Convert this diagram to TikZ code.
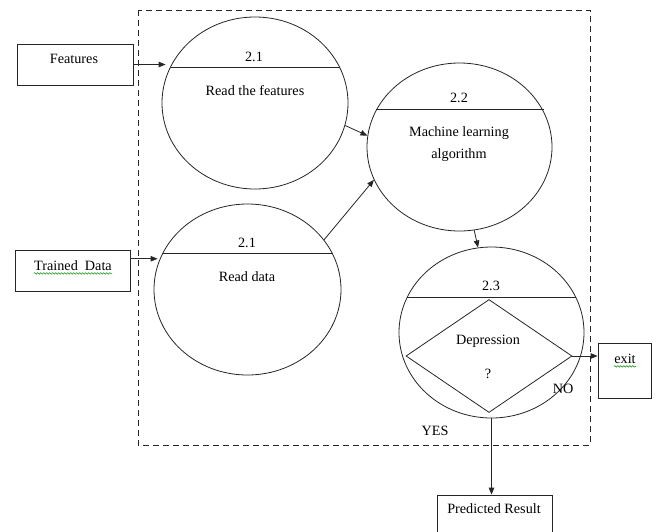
\documentclass[tikz,border=0pt]{standalone}
\usepackage{fontspec}
\setmainfont{Liberation Serif}
\usetikzlibrary{shapes.geometric,arrows.meta,calc,decorations.pathmorphing}

\begin{document}
\begin{tikzpicture}[x=1pt,y=-1pt,
  line width=0.8pt,
  every node/.style={font=\fontsize{14.2}{16}\selectfont},
  proc/.style={ellipse, draw=black!85, inner sep=0pt},
  extbox/.style={rectangle, draw=black!85, inner sep=0pt},
  lbl/.style={inner sep=0pt, text height=10pt, text depth=3pt, yshift=-1.5pt},
  arr/.style={draw=black!85, -{Triangle[length=7pt,width=5.5pt]}},
  divider/.style={draw=black!85},
  spell/.style={draw=green!55!black, line width=0.5pt, decorate,
    decoration={snake, amplitude=0.8pt, segment length=3pt}}
]
\useasboundingbox (0,0) rectangle (659,531);
\clip (0,0) rectangle (659,531);
\fill[white] (0,0) rectangle (659,531);

% system boundary
\draw[black!85, dash pattern=on 6pt off 4pt] (138,10) rectangle (590,445);

% external entities
\node[extbox, minimum width=116pt, minimum height=41pt] (feat) at (75,64.5) {};
\node[extbox, minimum width=115pt, minimum height=40.5pt] (td) at (72.5,270.75) {};
\node[extbox, minimum width=53pt, minimum height=55pt] (ex) at (624.5,370.5) {};
\node[extbox, minimum width=115pt, minimum height=60pt] (pred) at (494.5,525) {};

\node[lbl] (feattxt) at (74,58) {Features};
\node[lbl] (tdtxt) at (73,265) {Trained\ \ Data};
\node[lbl] (extxt) at (625,358) {exit};
\node[lbl] (predtxt) at (494,508) {Predicted Result};

% spelling marks under the entity names
\draw[spell] (tdtxt.south west) -- (tdtxt.south east);
\draw[spell] (extxt.south west) -- (extxt.south east);

% processes
\node[proc, minimum width=186pt, minimum height=172pt] (c1) at (255,103) {};
\node[proc, minimum width=187pt, minimum height=171pt] (c2) at (247.5,289.5) {};
\node[proc, minimum width=185pt, minimum height=168pt] (c3) at (459.5,147) {};
\node[proc, minimum width=185pt, minimum height=171pt] (c4) at (491.5,332.5) {};

% process header lines
\draw[divider] ($(c1.center)+(-84.5,-36)$) -- ++(169,0);
\draw[divider] ($(c2.center)+(-84.6,-36.5)$) -- ++(169.2,0);
\draw[divider] ($(c3.center)+(-83.5,-38)$) -- ++(168,0);
\draw[divider] ($(c4.center)+(-84.2,-35.5)$) -- ++(168.4,0);

% process numbers and names
\node[lbl] (n1) at (254,56) {2.1};
\node[lbl] (t1) at (255,90) {Read the features};
\node[lbl] (n2) at (247,242) {2.1};
\node[lbl] (t2) at (247,276) {Read data};
\node[lbl] (n3) at (459,97) {2.2};
\node[lbl] (t3a) at (459,131) {Machine learning};
\node[lbl] (t3b) at (459,153) {algorithm};
\node[lbl] (n4) at (491,285) {2.3};

% decision
\node[diamond, draw=black!85, minimum width=166pt, minimum height=113pt, inner sep=0pt] (dec) at (489,356) {};
\node[lbl] (dq1) at (488,339) {Depression};
\node[lbl] (dq2) at (488,373) {?};
\node[lbl] (no) at (563,388) {NO};
\node[lbl] (yes) at (435,430) {YES};

% flows
\coordinate (tdout) at ([yshift=12pt]td.east);
\draw[arr] (feat.east) -- ($(feat.east -| c1.west)+(4,0)$);
\draw[arr] (tdout) -- ($(tdout -| c2.west)+(4,0)$);
\draw[arr] (c1.-14) -- (c3.173);
\draw[arr] (c2.33) -- (c3.201);
\draw[arr] (c3.-80) -- (c4.99);
\draw[arr] (dec.east) -- (dec.east -| ex.west);
\draw[arr] (c4.south) -- (c4.south |- pred.north);
\end{tikzpicture}
\end{document}
